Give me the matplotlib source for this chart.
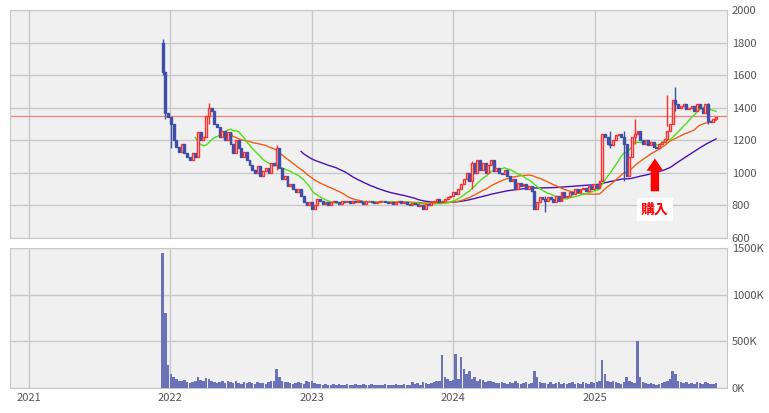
import matplotlib.pyplot as plt
import matplotlib.dates as mdates
import numpy as np
import pandas as pd

plt.rcParams['font.family'] = ['Noto Sans CJK JP', 'DejaVu Sans']

# weekly closes, grouped by month (Dec 2021 .. Nov 2025)
closes = [
    1620, 1370, 1340,
    1300, 1200, 1160, 1130, 1180, 1120, 1100, 1080, 1120, 1100, 1250, 1200,
    1220, 1350, 1400, 1380, 1300, 1280, 1220, 1260, 1200, 1250, 1180, 1120, 1200,
    1150, 1100, 1130, 1080, 1050, 1020, 1000, 1040, 980, 1010, 1030, 1000, 1060,
    1050, 1150, 1030, 960, 980, 920, 930, 900, 880, 900, 860, 820, 800,
    820, 780, 800, 840, 830, 810, 820, 800, 820, 830, 820, 810, 830,
    820, 830, 815, 825, 820, 830, 820, 810, 825, 830, 820, 815, 820,
    825, 830, 820, 815, 820, 810, 820, 830, 815, 820, 810, 800, 815,
    810, 795, 800, 780, 810, 800, 820, 830, 840, 820, 830, 840, 850,
    860, 880, 870, 900, 930, 960, 1000, 950, 1060, 1000, 1080, 1020, 1060,
    1000, 1050, 1080, 1010, 1030, 1000, 990, 1020, 980, 950, 960, 900, 940,
    920, 930, 900, 920, 890, 780, 820, 850, 840, 830, 850, 840, 820,
    860, 830, 880, 850, 860, 880, 870, 900, 880, 900, 910, 890, 920,
    900, 930, 910, 950, 1240, 1220, 1180, 1170, 1200, 1230, 1240, 1220, 1180,
    980, 1100, 1220, 1240, 1260, 1200, 1180, 1200, 1170, 1190, 1160, 1150, 1180,
    1190, 1210, 1260, 1300, 1450, 1420, 1400, 1410, 1420, 1390, 1400, 1410, 1380,
    1420, 1400, 1370, 1420, 1320, 1310, 1330, 1345,
]
first_open = 1800
# notable wicks: week index -> (high, low)
wicks = {0: (1820, 1600), 1: (1620, 1330), 3: (1330, 1150), 17: (1430, 1300),
         42: (1170, 1020), 114: (1070, 900), 141: (860, 760), 165: (1260, 1150),
         170: (1260, 950), 174: (1330, 1180), 186: (1480, 1290), 189: (1530, 1380),
         201: (1430, 1300)}

volumes_k = [
    1450, 800, 250,
    150, 120, 100, 80, 70, 90, 60, 50, 60, 80, 120, 90,
    80, 110, 100, 70, 60, 50, 60, 70, 50, 80, 60, 50, 70,
    50, 40, 60, 50, 60, 50, 40, 60, 50, 50, 40, 60, 70,
    80, 200, 120, 80, 60, 60, 50, 40, 50, 60, 50, 40, 80,
    60, 70, 50, 40, 40, 30, 40, 30, 30, 40, 30, 40, 30,
    30, 40, 30, 30, 40, 30, 30, 40, 30, 30, 40, 30, 30,
    30, 30, 40, 30, 30, 30, 40, 30, 30, 40, 30, 30, 60,
    40, 50, 30, 60, 50, 40, 50, 60, 70, 80, 350, 120, 100,
    80, 90, 360, 100, 330, 200, 150, 180, 100, 120, 80, 100, 90,
    60, 70, 80, 60, 50, 50, 60, 50, 40, 60, 50, 70, 50,
    40, 50, 60, 40, 50, 180, 120, 60, 50, 50, 40, 60, 40,
    50, 60, 40, 50, 40, 50, 60, 40, 50, 40, 60, 50, 40,
    60, 50, 60, 80, 300, 150, 80, 60, 70, 60, 50, 40, 60,
    120, 80, 60, 50, 500, 120, 60, 50, 40, 50, 40, 30, 40,
    50, 60, 80, 100, 180, 150, 80, 60, 50, 60, 40, 50, 40,
    60, 50, 40, 60, 50, 40, 40, 50,
]
current_price = 1350
price_ticks = [600, 800, 1000, 1200, 1400, 1600, 1800, 2000]
vol_ticks = [0, 500, 1000, 1500]
years = [2021, 2022, 2023, 2024, 2025]

dates = pd.date_range("2021-12-13", periods=len(closes), freq="W-MON")
df = pd.DataFrame({"close": closes, "vol": volumes_k}, index=dates)
df["open"] = df["close"].shift(1).fillna(first_open)
df["high"] = df[["open", "close"]].max(axis=1)
df["low"] = df[["open", "close"]].min(axis=1)
for i, (h, l) in wicks.items():
    df.iloc[i, df.columns.get_loc("high")] = h
    df.iloc[i, df.columns.get_loc("low")] = l
ma13 = df["close"].rolling(13).mean()
ma26 = df["close"].rolling(26).mean()
ma52 = df["close"].rolling(52).mean()

fig = plt.figure(figsize=(7.69, 4.13), dpi=100)
ax = fig.add_axes([10 / 769, 175 / 413, 717 / 769, 228 / 413])
axv = fig.add_axes([10 / 769, 25 / 413, 717 / 769, 140 / 413], sharex=ax)
bg = "#f0f0f0"
x = mdates.date2num(df.index)
w = 5

for a in (ax, axv):
    a.set_facecolor(bg)
    a.yaxis.tick_right()
    a.grid(True, color="#c8c8c8", linewidth=1)
    a.set_axisbelow(True)
    for s in a.spines.values():
        s.set_color("#c8c8c8")
    a.tick_params(length=0, labelsize=8, colors="#555555")

ax.axhline(current_price, color="#f08080", linewidth=0.9, zorder=1)
ax.plot(x, ma52, color="#4b10b8", linewidth=1, zorder=2)
ax.plot(x, ma26, color="#f06010", linewidth=1, zorder=2)
ax.plot(x, ma13, color="#50e010", linewidth=1, zorder=2)
for xi, o, h, l, c in zip(x, df["open"], df["high"], df["low"], df["close"]):
    up = c >= o
    col = "#ff3030" if up else "#3f4fa8"
    ax.vlines(xi, l, h, color=col, linewidth=1, zorder=3)
    ax.add_patch(plt.Rectangle((xi - w / 2, min(o, c)), w, max(abs(c - o), 4),
                               facecolor=bg if up else col, edgecolor=col,
                               linewidth=1, zorder=4))

ax.set_ylim(600, 2000)
ax.set_yticks(price_ticks)
ax.set_xlim(mdates.datestr2num("2020-11-14"), mdates.datestr2num("2025-12-08"))
ax.xaxis.set_major_locator(mdates.YearLocator())
plt.setp(ax.get_xticklabels(), visible=False)

# purchase marker
buy = mdates.datestr2num("2025-06-05")
ax.annotate("", xy=(buy, 1105), xytext=(buy, 870),
            arrowprops=dict(arrowstyle="simple,head_width=1.5,head_length=1.1,tail_width=0.75",
                            color="red", lw=0, mutation_scale=8), zorder=6)
ax.text(buy, 775, "購入", color="red", fontsize=10, fontweight="bold",
        ha="center", va="center", zorder=6,
        bbox=dict(facecolor="white", edgecolor="none", pad=3))

axv.bar(x, df["vol"], width=6.5, color="#6a72b8", zorder=3)
axv.set_ylim(0, 1500)
axv.set_yticks(vol_ticks)
axv.set_yticklabels([f"{v}K" for v in vol_ticks])
axv.set_xticks([mdates.datestr2num(f"{y}-01-01") for y in years])
axv.set_xticklabels([str(y) for y in years])

fig.savefig("out.png", dpi=100)
